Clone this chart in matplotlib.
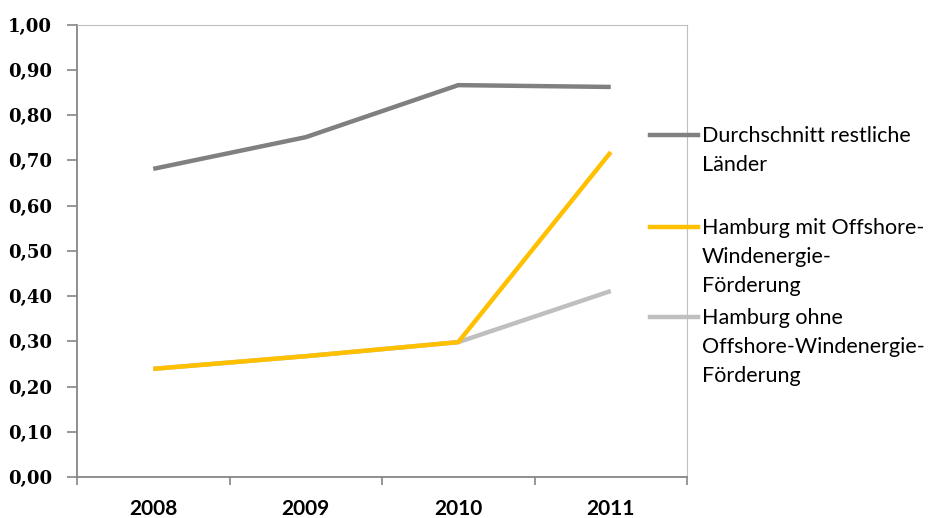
import matplotlib
matplotlib.use("Agg")
import matplotlib.pyplot as plt
from matplotlib.lines import Line2D
import numpy as np

# data
years = ["2008", "2009", "2010", "2011"]
durchschnitt = [0.681, 0.751, 0.866, 0.862]
hh_mit = [0.239, 0.267, 0.298, 0.718]
hh_ohne = [0.239, 0.267, 0.298, 0.411]
labels = [["Durchschnitt restliche", "Länder"],
          ["Hamburg mit Offshore-", "Windenergie-", "Förderung"],
          ["Hamburg ohne", "Offshore-Windenergie-", "Förderung"]]
colors = ["#808080", "#FFC000", "#BFBFBF"]
yticks = np.arange(0, 1.01, 0.1)

fig = plt.figure(figsize=(9.3, 5.18), dpi=100)
ax = fig.add_axes([77 / 930, 41 / 518, 610 / 930, 452.5 / 518])

x = np.arange(len(years))
# light gray first so the yellow lies on top of it
ax.plot(x, hh_ohne, color=colors[2], lw=3.2, solid_capstyle="butt", zorder=2)
ax.plot(x, hh_mit, color=colors[1], lw=3.2, solid_capstyle="butt", zorder=3)
ax.plot(x, durchschnitt, color=colors[0], lw=3.2, solid_capstyle="butt", zorder=3)

ax.set_xlim(-0.5, len(years) - 0.5)
ax.set_ylim(0, 1.0)

# ticks between categories, labels at categories
ax.set_xticks(np.arange(-0.5, len(years), 1.0))
ax.set_xticklabels([])
ax.set_xticks(x, minor=True)
ax.set_xticklabels(years, minor=True, fontfamily="Lato", fontweight="bold", fontsize=15)
ax.tick_params(axis="x", which="major", length=6, width=1.2, color="#868686", direction="out")
ax.tick_params(axis="x", which="minor", length=0, pad=16)

ax.set_yticks(yticks)
ax.set_yticklabels([f"{v:.2f}".replace(".", ",") for v in yticks],
                   fontfamily="DejaVu Serif", fontweight="bold", fontsize=13)
ax.tick_params(axis="y", length=7, width=1.2, color="#868686", direction="out", pad=11)

for side in ["left", "bottom"]:
    ax.spines[side].set_color("#868686")
    ax.spines[side].set_linewidth(1.3)
for side in ["top", "right"]:
    ax.spines[side].set_color("#BFBFBF")
    ax.spines[side].set_linewidth(0.8)

# legend: handle aligned with the first text line, 29 px between lines
leg_y = [135, 227, 317]
for lines, col, yy in zip(labels, colors, leg_y):
    fy = 1 - yy / 518
    fig.add_artist(Line2D([650 / 930, 698 / 930], [fy, fy], color=col, lw=3.2,
                          transform=fig.transFigure))
    for i, line in enumerate(lines):
        fig.text(702 / 930, 1 - (yy + 7 + 29 * i) / 518, line, fontfamily="Lato",
                 fontsize=15.5, va="baseline", ha="left")

fig.savefig("out.png", dpi=100)
